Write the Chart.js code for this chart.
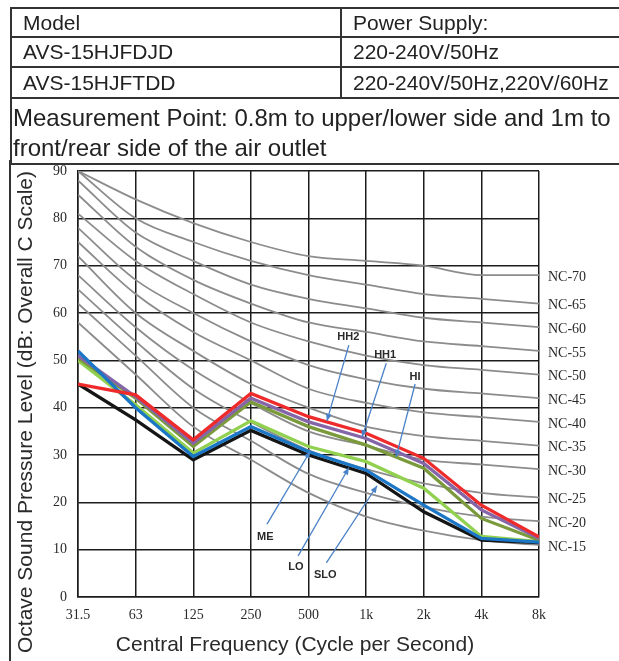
<!DOCTYPE html>
<html>
<head>
<meta charset="utf-8">
<title>Octave sound pressure level – NC curves</title>
<script src="https://cdn.jsdelivr.net/npm/chart.js@4.4.1/dist/chart.umd.min.js"></script>
<style>
  html, body { margin: 0; padding: 0; background: #fff; }
  body {
    width: 619px; height: 661px; overflow: hidden; position: relative;
    font-family: "Liberation Sans", Arial, sans-serif; color: #222;
  }
  #chart { position: absolute; left: 0; top: 0; }

  /* spec table above the chart (runs past the right edge, like the scan) */
  table.spec {
    position: absolute; left: 10px; top: 7px; width: 720px;
    border-collapse: collapse; table-layout: fixed;
  }
  table.spec td {
    border: 2px solid #333; padding: 0 0 0 11px;
    font-size: 21px; line-height: 24px; white-space: nowrap; overflow: hidden;
  }
  table.spec td.note {
    font-size: 24px; line-height: 30px; padding: 4px 0 0 1px; vertical-align: top;
  }
  /* left frame line continues down beside the chart */
  .frame-left { position: absolute; left: 9px; top: 160px; width: 2px; height: 520px; background: #333; }
</style>
</head>
<body>
<canvas id="chart" width="619" height="661"></canvas>

<table class="spec">
  <colgroup><col style="width:330px"><col style="width:390px"></colgroup>
  <tr style="height:29px"><td>Model</td><td>Power Supply:</td></tr>
  <tr style="height:30px"><td>AVS-15HJFDJD</td><td>220-240V/50Hz</td></tr>
  <tr style="height:31px"><td>AVS-15HJFTDD</td><td>220-240V/50Hz,220V/60Hz</td></tr>
  <tr style="height:65px"><td class="note" colspan="2">Measurement Point: 0.8m to upper/lower side and 1m to<br>front/rear side of the air outlet</td></tr>
</table>
<div class="frame-left"></div>

<script>
/* ---------- data ---------- */

// octave band centre frequencies (x axis, one step per band)
const FREQS = ['31.5', '63', '125', '250', '500', '1k', '2k', '4k', '8k'];
const Y_MIN = 0;
const Y_MAX = 90;
const Y_STEP = 10;

// NC reference curves, dB per band (31.5 … 8k)
const NC_70 = [90, 84, 79, 75, 72, 71, 70, 68, 68];
const NC_65 = [90, 80, 75, 71, 68, 66, 64, 63, 62];
const NC_60 = [88, 77, 71, 66, 63, 61, 59, 58, 57];
const NC_55 = [85, 74, 67, 62, 58, 56, 54, 53, 52];
const NC_50 = [81, 71, 64, 58, 54, 51, 49, 48, 47];
const NC_45 = [78, 67, 60, 54, 49, 46, 44, 43, 42];
const NC_40 = [75, 64, 56, 50, 44, 41, 39, 38, 37];
const NC_35 = [72, 60, 52, 45, 40, 36, 34, 33, 32];
const NC_30 = [68, 57, 48, 41, 35, 32, 29, 28, 27];
const NC_25 = [65, 54, 44, 37, 31, 27, 24, 22, 21];
const NC_20 = [62, 51, 40, 33, 26, 22, 19, 17, 16];
const NC_15 = [58, 47, 36, 29, 22, 17, 14, 12, 11];
const NC_NAMES = ['NC-70', 'NC-65', 'NC-60', 'NC-55', 'NC-50', 'NC-45',
                  'NC-40', 'NC-35', 'NC-30', 'NC-25', 'NC-20', 'NC-15'];
const NC_CURVES = [NC_70, NC_65, NC_60, NC_55, NC_50, NC_45,
                   NC_40, NC_35, NC_30, NC_25, NC_20, NC_15];

const HH2 = [45.0, 42.7, 33.2, 43.0, 38.1, 34.6, 29.3, 19.4, 12.7];
const HH1 = [51.0, 42.3, 32.5, 42.0, 37.0, 33.5, 28.2, 18.4, 12.4];
const HI  = [50.5, 42.0, 31.8, 41.2, 36.0, 32.1, 27.2, 16.6, 12.0];
const ME  = [50.0, 40.6, 30.4, 37.2, 31.8, 28.6, 23.0, 12.8, 11.7];
const LO  = [52.0, 40.0, 29.7, 36.0, 30.7, 26.8, 19.4, 12.4, 11.6];
const SLO = [45.0, 37.4, 29.0, 35.2, 30.0, 26.1, 18.0, 12.0, 11.5];
const SPEED_NAMES  = ['HH2', 'LO', 'HH1', 'HI', 'ME', 'SLO'];
const SPEED_SERIES = [HH2, LO, HH1, HI, ME, SLO];
const SPEED_COLORS = ['#ee2a2a', '#1b76c6', '#8466a8', '#7b9a3c', '#92d050', '#151515'];

// callouts, in axis units (band index, dB): label spot, arrow tail, arrow head
const CALLOUT_NAMES = ['HH2', 'HH1', 'HI', 'ME', 'LO', 'SLO'];
const CALLOUT_TEXT  = [[4.69, 55.0], [5.33, 51.1], [5.85, 46.4], [3.25, 12.7], [3.78, 6.3], [4.29, 4.6]];
const CALLOUT_FROM  = [[4.70, 53.2], [5.35, 49.4], [5.85, 45.0], [3.28, 15.4], [3.82, 8.7], [4.31, 7.2]];
const CALLOUT_TO    = [[4.32, 37.2], [4.93, 33.8], [5.52, 29.6], [4.03, 30.8], [4.70, 27.3], [5.19, 23.5]];

/* ---------- styling ---------- */

const INK = '#2a2a2a';
const GRID = '#1c1c1c';
const NC_GREY = '#8c8c8c';
const ARROW = '#4a82c8';
const SERIF = '"Liberation Serif", "DejaVu Serif", serif';
const SANS = '"Liberation Sans", Arial, sans-serif';

const toPoints = (arr) => arr.map((v, i) => ({ x: i, y: v }));

/* ---------- plugins ---------- */

// NC-xx names to the right of the 8k line, level with each curve's end
const ncLabelPlugin = {
  id: 'ncLabels',
  afterDatasetsDraw(chart) {
    const { ctx, scales } = chart;
    ctx.save();
    ctx.font = `14px ${SERIF}`;
    ctx.fillStyle = INK;
    ctx.textAlign = 'left';
    ctx.textBaseline = 'middle';
    NC_CURVES.forEach((curve, i) => {
      const last = curve.length - 1;
      ctx.fillText(NC_NAMES[i], scales.x.getPixelForValue(last) + 9,
        scales.y.getPixelForValue(curve[last]) + 2);
    });
    ctx.restore();
  },
};

// blue arrows from the speed names to their lines
const calloutPlugin = {
  id: 'callouts',
  afterDatasetsDraw(chart) {
    const { ctx, scales } = chart;
    const px = ([i, v]) => [scales.x.getPixelForValue(i), scales.y.getPixelForValue(v)];
    ctx.save();
    CALLOUT_NAMES.forEach((name, k) => {
      const [x0, y0] = px(CALLOUT_FROM[k]);
      const [x1, y1] = px(CALLOUT_TO[k]);
      ctx.strokeStyle = ARROW;
      ctx.fillStyle = ARROW;
      ctx.lineWidth = 1.3;
      ctx.beginPath();
      ctx.moveTo(x0, y0);
      ctx.lineTo(x1, y1);
      ctx.stroke();
      const a = Math.atan2(y1 - y0, x1 - x0);
      const len = 7;
      const w = 3;
      ctx.beginPath();
      ctx.moveTo(x1, y1);
      ctx.lineTo(x1 - len * Math.cos(a) + w * Math.sin(a), y1 - len * Math.sin(a) - w * Math.cos(a));
      ctx.lineTo(x1 - len * Math.cos(a) - w * Math.sin(a), y1 - len * Math.sin(a) + w * Math.cos(a));
      ctx.closePath();
      ctx.fill();

      const [tx, ty] = px(CALLOUT_TEXT[k]);
      ctx.font = `bold 11px ${SANS}`;
      ctx.fillStyle = INK;
      ctx.textAlign = 'center';
      ctx.textBaseline = 'middle';
      ctx.fillText(name, tx, ty);
    });
    ctx.restore();
  },
};

// axis titles sit off-centre in the scan, so place them by hand
const axisTitlePlugin = {
  id: 'axisTitles',
  afterDraw(chart) {
    const { ctx } = chart;
    ctx.save();
    ctx.fillStyle = INK;
    ctx.textAlign = 'center';
    ctx.textBaseline = 'middle';
    ctx.font = `21px ${SANS}`;
    ctx.fillText('Central Frequency (Cycle per Second)', 295, 645);
    ctx.translate(26, 412);
    ctx.rotate(-Math.PI / 2);
    ctx.fillText('Octave Sound Pressure Level (dB: Overall C Scale)', 0, 0);
    ctx.restore();
  },
};

/* ---------- chart ---------- */

const datasets = [];
SPEED_SERIES.forEach((series, i) => {
  datasets.push({
    label: SPEED_NAMES[i],
    data: toPoints(series),
    borderColor: SPEED_COLORS[i],
    borderWidth: 3.3,
    pointRadius: 0,
    tension: 0,
    order: i,
  });
});
NC_CURVES.forEach((curve, i) => {
  datasets.push({
    label: NC_NAMES[i],
    data: toPoints(curve),
    borderColor: NC_GREY,
    borderWidth: 1.8,
    pointRadius: 0,
    cubicInterpolationMode: 'monotone',
    order: 20 + i,
  });
});

new Chart(document.getElementById('chart'), {
  type: 'line',
  data: { datasets },
  options: {
    responsive: false,
    animation: false,
    events: [],
    layout: { padding: { top: 171, right: 80, bottom: 0, left: 0 } },
    plugins: { legend: { display: false }, tooltip: { enabled: false } },
    scales: {
      x: {
        type: 'linear',
        min: 0,
        max: FREQS.length - 1,
        afterFit: (s) => { s.height = 64; },
        grid: { color: GRID, lineWidth: 1.5, drawTicks: false },
        border: { color: GRID, width: 1.5 },
        ticks: {
          stepSize: 1,
          padding: 10,
          color: INK,
          font: { family: SERIF, size: 14 },
          callback: (v) => FREQS[v],
        },
      },
      y: {
        min: Y_MIN,
        max: Y_MAX,
        afterFit: (s) => { s.width = 78; },
        grid: { color: GRID, lineWidth: 1.5, drawTicks: false },
        border: { color: GRID, width: 1.5 },
        ticks: {
          stepSize: Y_STEP,
          padding: 11,
          color: INK,
          font: { family: SERIF, size: 14 },
        },
      },
    },
  },
  plugins: [ncLabelPlugin, calloutPlugin, axisTitlePlugin],
});
</script>
</body>
</html>
